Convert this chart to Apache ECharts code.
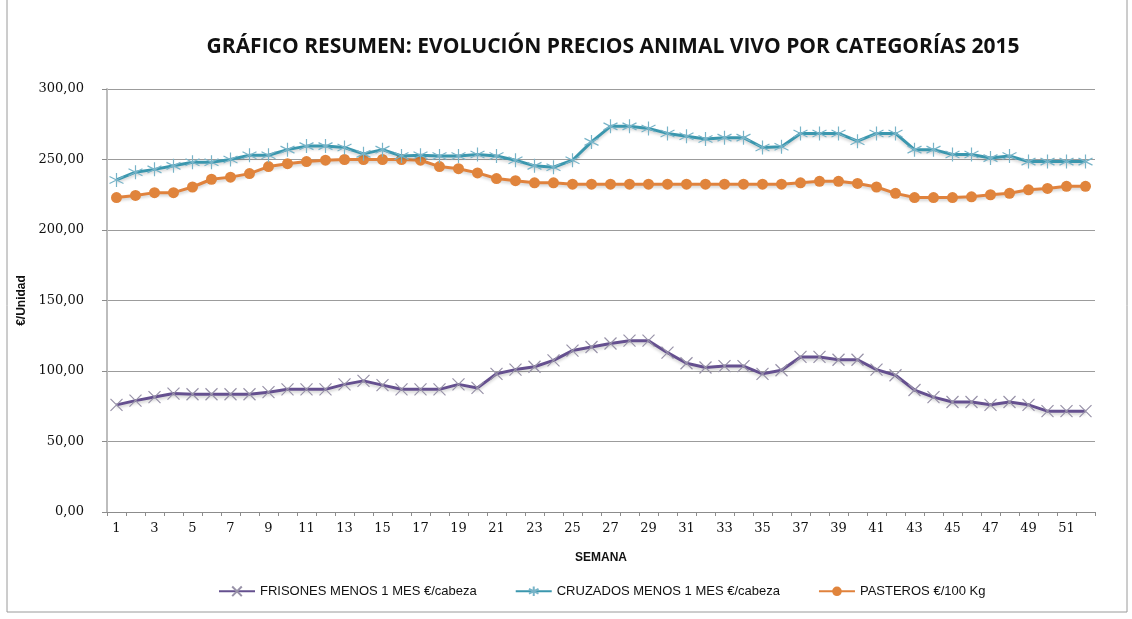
<!DOCTYPE html>
<html>
<head>
    <meta charset="utf-8">
    <title>Evolución precios animal vivo 2015</title>
    <style>
        body{
            margin: 0;
            padding: 0;
            background: #fff;
        }
        #container{
            width: 1132px;
            height: 619px;
        }
    </style>
</head>
<body>
    <div id="container"></div>

    <script src="https://cdn.jsdelivr.net/npm/echarts@6/dist/echarts.min.js"></script>
    <script type="text/javascript">
    // semanas del año (eje X)
    var semanas = ['1','2','3','4','5','6','7','8','9','10','11','12','13','14','15','16','17','18','19','20',
        '21','22','23','24','25','26','27','28','29','30','31','32','33','34','35','36','37','38','39','40',
        '41','42','43','44','45','46','47','48','49','50','51','52'];

    // FRISONES MENOS 1 MES €/cabeza
    var frisones = [76, 79, 81.5, 84, 83.5, 83.5, 83.5, 83.5, 85, 87, 87, 87, 90.5, 93, 90, 87, 87, 87, 90.5, 88,
        98, 101, 103, 107.5, 114.5, 117, 119.5, 121.5, 121.5, 113, 105.5, 102.5, 103.5, 103.5, 98, 100.5, 110, 110, 108, 108,
        101, 97, 86.5, 81.5, 78, 78, 76, 78, 76, 71.5, 71.5, 71.5];

    // CRUZADOS MENOS 1 MES €/cabeza
    var cruzados = [235.5, 241, 243, 245.5, 248, 248, 250, 253, 253, 257, 259.5, 259.5, 258.5, 254, 257, 252.5, 253, 252.5, 252.5, 253.5,
        252.5, 249.5, 245.5, 244.5, 249.5, 262.5, 273.5, 273.5, 272, 268.5, 266.5, 264.5, 265.5, 265.5, 258.5, 259, 268.5, 268.5, 268.5, 263,
        268.5, 268.5, 257, 257, 253.5, 253.5, 251, 252.5, 248.5, 248.5, 248.5, 248.5];

    // PASTEROS €/100 Kg
    var pasteros = [223, 224.5, 226.5, 226.5, 230.5, 236, 237.5, 240, 245, 247, 248.5, 249.5, 250, 250, 250, 250, 249.5, 245, 243.5, 240.5,
        236.5, 235, 233.5, 233.5, 232.5, 232.5, 232.5, 232.5, 232.5, 232.5, 232.5, 232.5, 232.5, 232.5, 232.5, 232.5, 233.5, 234.5, 234.5, 233,
        230.5, 226, 223, 223, 223, 223.5, 225, 226, 228.5, 229.5, 231, 231];

    // etiquetas del eje Y
    var ticksY = [0, 50, 100, 150, 200, 250, 300];

    var nombres = ['FRISONES MENOS 1 MES €/cabeza', 'CRUZADOS MENOS 1 MES €/cabeza', 'PASTEROS €/100 Kg'];

    var dom = document.getElementById('container');
    var myChart = echarts.init(dom);

    // sombra suave como en Excel
    var sombra = {shadowBlur: 3, shadowColor: 'rgba(0,0,0,0.18)', shadowOffsetY: 2};

    var option = {
        animation: false,
        title: {
            text: 'GRÁFICO RESUMEN: EVOLUCIÓN PRECIOS ANIMAL VIVO POR CATEGORÍAS 2015',
            left: 608,
            textAlign: 'center',
            top: 32,
            textStyle: {
                fontFamily: 'Open Sans',
                fontWeight: 'bold',
                fontSize: 21,
                color: '#111'
            }
        },
        legend: {
            data: nombres,
            left: 213,
            top: 579,
            itemGap: 38,
            itemWidth: 36,
            itemHeight: 12,
            textStyle: {
                fontFamily: 'Liberation Sans',
                fontSize: 13,
                color: '#111'
            }
        },
        graphic: [{
            type: 'rect',
            shape: {x: 7, y: -2, width: 1120, height: 614},
            style: {fill: 'none', stroke: '#9a9a9a', lineWidth: 1},
            silent: true
        }],
        grid: {
            left: 107,
            right: 37,
            top: 89,
            bottom: 107
        },
        xAxis: {
            type: 'category',
            data: semanas,
            boundaryGap: true,
            name: 'SEMANA',
            nameLocation: 'middle',
            nameGap: 40,
            nameTextStyle: {
                fontFamily: 'Liberation Sans',
                fontWeight: 'bold',
                fontSize: 12,
                color: '#111'
            },
            axisLine: {lineStyle: {color: '#8c8c8c', width: 1}},
            axisTick: {show: true, length: 4, interval: 0, lineStyle: {color: '#8c8c8c'}},
            axisLabel: {
                interval: 1,
                margin: 10,
                fontFamily: 'DejaVu Serif',
                fontSize: 13,
                color: '#111'
            }
        },
        yAxis: {
            type: 'value',
            min: ticksY[0],
            max: ticksY[ticksY.length - 1],
            interval: 50,
            name: '€/Unidad',
            nameLocation: 'middle',
            nameGap: 73,
            nameTextStyle: {
                fontFamily: 'Liberation Sans',
                fontWeight: 'bold',
                fontSize: 12,
                color: '#111'
            },
            axisLine: {show: true, lineStyle: {color: '#bdbdbd', width: 2}},
            axisTick: {show: true, length: 5, lineStyle: {color: '#8c8c8c'}},
            axisLabel: {
                margin: 23,
                fontFamily: 'DejaVu Serif',
                fontSize: 13,
                color: '#111',
                formatter: function (v) {
                    return v.toFixed(2).replace('.', ',');
                }
            },
            splitLine: {lineStyle: {color: '#9c9c9c', width: 1}}
        },
        series: [{
            name: nombres[0],
            type: 'line',
            data: frisones,
            showAllSymbol: true,
            symbol: 'path://M0,0L10,10M0,10L10,0',
            symbolSize: 12,
            z: 3,
            lineStyle: Object.assign({color: '#65508f', width: 3}, sombra),
            itemStyle: {color: 'none', borderColor: '#9892a8', borderWidth: 1.2}
        }, {
            name: nombres[1],
            type: 'line',
            data: cruzados,
            showAllSymbol: true,
            symbol: 'path://M5,0L5,10M0,2.5L10,7.5M0,7.5L10,2.5',
            symbolSize: 14,
            z: 3,
            lineStyle: Object.assign({color: '#3b97ae', width: 3}, sombra),
            itemStyle: {color: 'none', borderColor: '#78b4c8', borderWidth: 1.2}
        }, {
            name: nombres[2],
            type: 'line',
            data: pasteros,
            showAllSymbol: true,
            symbol: 'circle',
            symbolSize: 11,
            z: 2,
            lineStyle: Object.assign({color: '#e0823d', width: 3}, sombra),
            itemStyle: {color: '#e0843c'}
        }]
    };

    if (option && typeof option === "object") {
        myChart.setOption(option, true);
    }
    </script>
</body>
</html>
